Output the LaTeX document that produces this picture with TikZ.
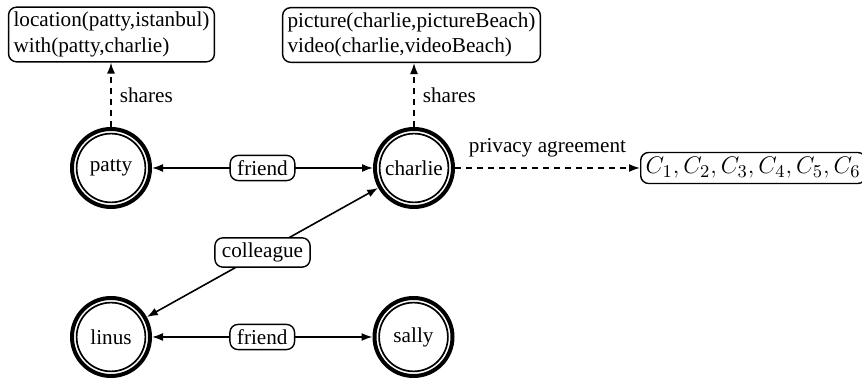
\documentclass[tikz,border=0pt]{standalone}
\usepackage{fontspec}
\setmainfont{Liberation Serif}
\usetikzlibrary{arrows.meta,calc}
\begin{document}
\begin{tikzpicture}[x=0.5pt,y=-0.5pt,
  font=\fontsize{10.6}{12.7}\selectfont,
  agent/.style={circle,draw,line width=0.85pt,
    minimum size=34.4pt,inner sep=0pt,outer sep=3.3pt},
  ring/.style={line width=2pt},
  infobox/.style={draw,rounded corners=4pt,line width=0.7pt,align=left,
    inner xsep=2.5pt,inner ysep=2.5pt},
  relbox/.style={draw,rounded corners=4pt,line width=0.7pt,fill=white,
    inner xsep=3.5pt,inner ysep=2.5pt},
  rel/.style={line width=0.8pt,{Latex[length=5.5pt,width=4pt]}-{Latex[length=5.5pt,width=4pt]}},
  share/.style={line width=0.8pt,dash pattern=on 3pt off 2.5pt,-{Latex[length=5.5pt,width=4pt]}}
]
\useasboundingbox (0,0) rectangle (862,383);
\node[agent] (patty) at (111,168) {patty};
\node[agent] (charlie) at (414,168) {charlie};
\node[agent] (linus) at (111,337) {linus};
\node[agent] (sally) at (413.5,337) {sally};
\foreach \n in {patty,charlie,linus,sally}
  \draw[ring] (\n.center) circle[radius=19.5pt];
\node[infobox] (b1) at (111.5,34.5) {location(patty,istanbul)\\with(patty,charlie)};
\node[infobox] (b2) at (411.5,35) {picture(charlie,pictureBeach)\\video(charlie,videoBeach)};
\node[relbox,anchor=west,font=\fontsize{12.3}{14}\selectfont,inner xsep=2.5pt] (c) at (640,168) {$C_1,C_2,C_3,C_4,C_5,C_6$};
\draw[rel] (patty) -- node[relbox] (f1) {friend} (charlie);
\draw[rel] (linus) -- node[relbox] (f2) {friend} (sally);
\draw[rel] (linus) -- node[relbox] (col) {colleague} (charlie);
\draw[share] (patty.north) -- node[right,inner sep=4pt] (s1) {shares} (patty.north |- b1.south);
\draw[share] (charlie.north) -- node[right,inner sep=4pt] (s2) {shares} (charlie.north |- b2.south);
\draw[share] (charlie.east) -- node[above,inner sep=5pt] (pa) {privacy agreement} (c.west);
\end{tikzpicture}
\end{document}
